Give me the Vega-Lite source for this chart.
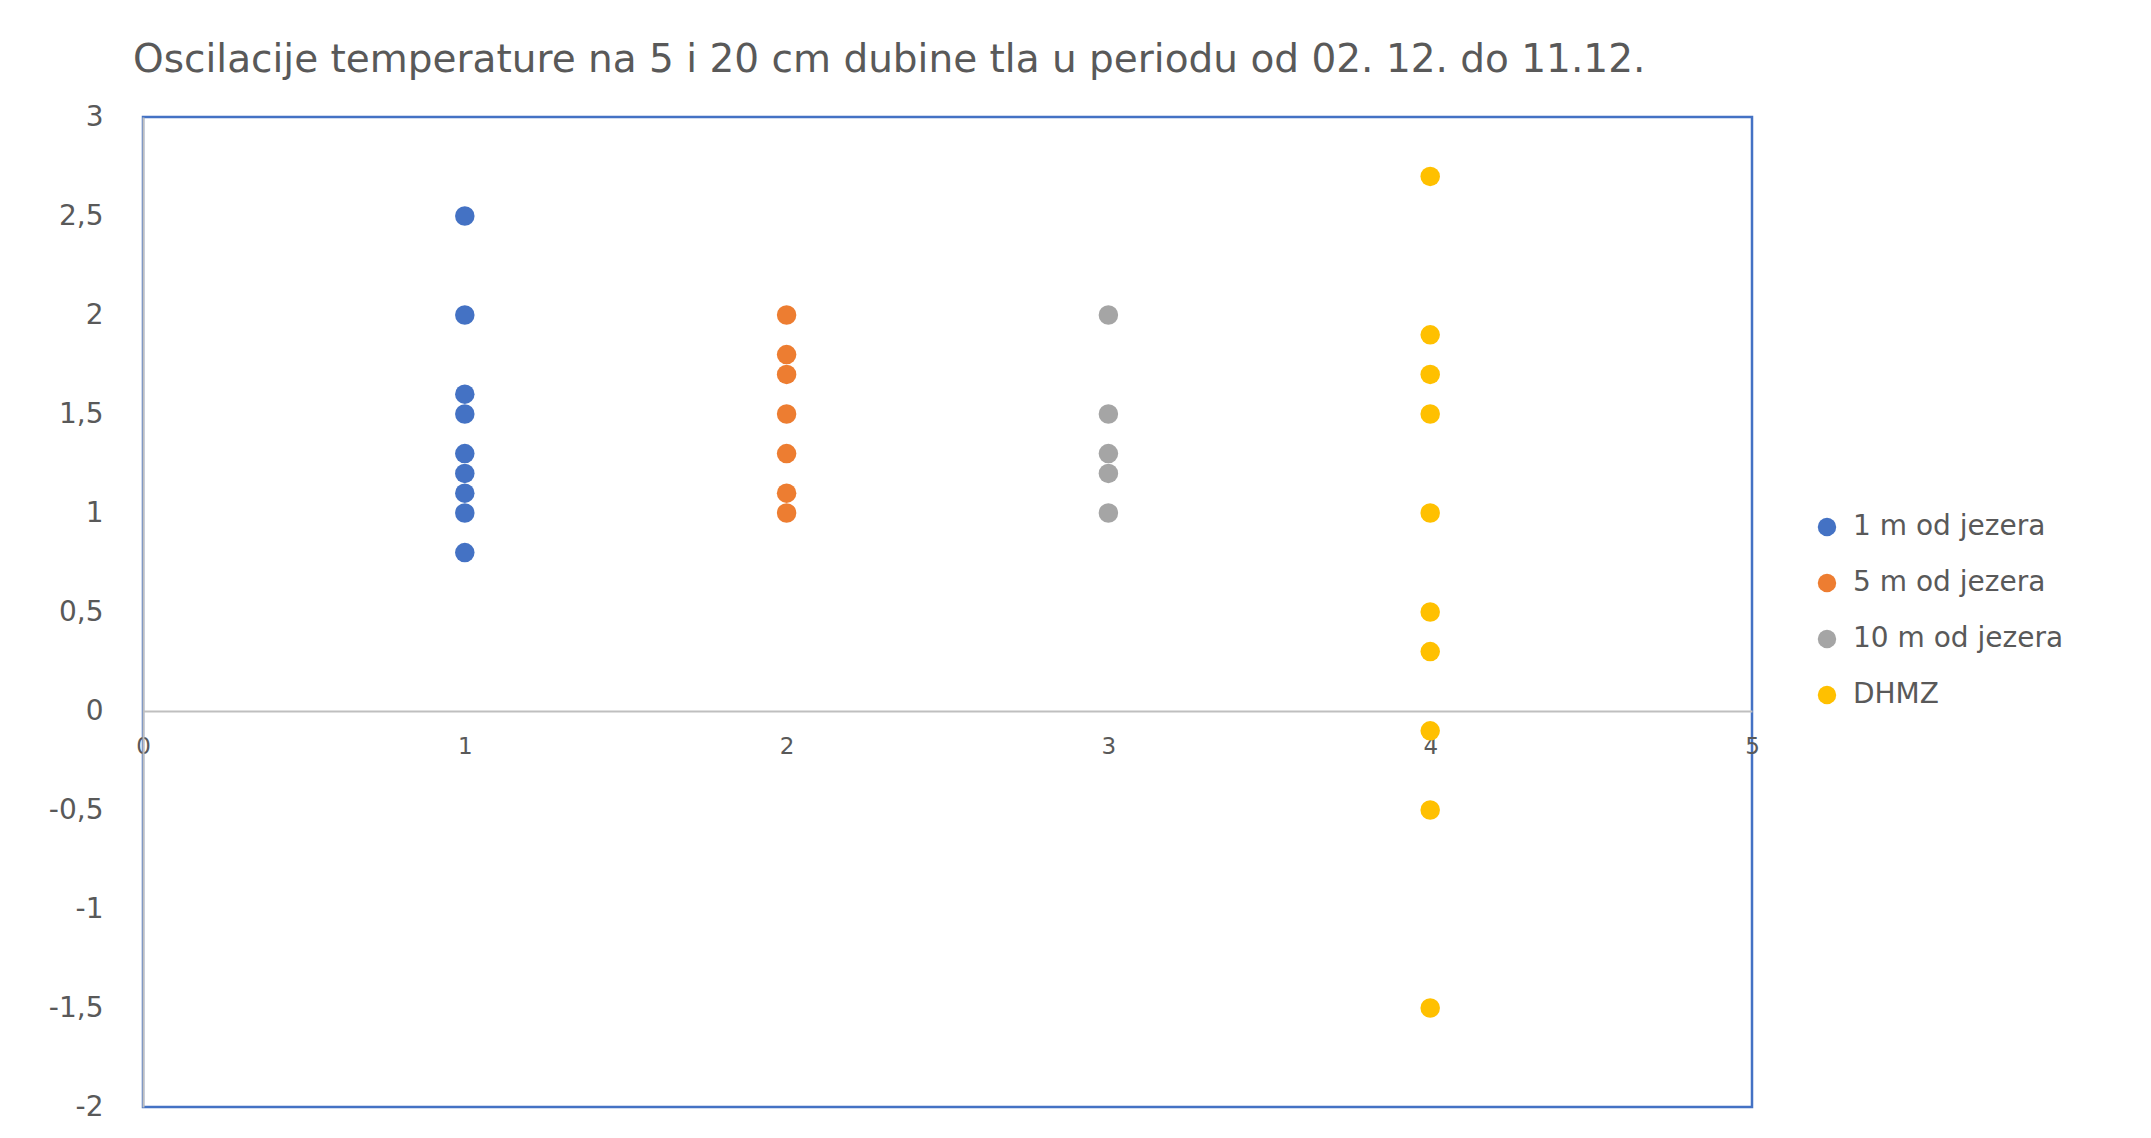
{
  "$schema": "https://vega.github.io/schema/vega-lite/v6.json",
  "autosize": "none",
  "width": 1609,
  "height": 990,
  "padding": {"left": 143, "top": 117, "right": 399, "bottom": 31},
  "background": "white",
  "title": {
    "text": "Oscilacije temperature na 5 i 20 cm dubine tla u periodu od 02. 12. do 11.12.",
    "anchor": "start",
    "frame": "group",
    "dx": -10,
    "offset": 23,
    "font": "DejaVu Sans",
    "fontSize": 39,
    "fontWeight": "normal",
    "color": "#595959"
  },
  "config": {
    "view": {"stroke": "#4472C4", "strokeWidth": 2.5},
    "font": "DejaVu Sans"
  },
  "data": {
    "values": [
      {"serija": "1 m od jezera", "x": 1, "y": 2.5},
      {"serija": "1 m od jezera", "x": 1, "y": 2.0},
      {"serija": "1 m od jezera", "x": 1, "y": 1.6},
      {"serija": "1 m od jezera", "x": 1, "y": 1.5},
      {"serija": "1 m od jezera", "x": 1, "y": 1.3},
      {"serija": "1 m od jezera", "x": 1, "y": 1.2},
      {"serija": "1 m od jezera", "x": 1, "y": 1.1},
      {"serija": "1 m od jezera", "x": 1, "y": 1.0},
      {"serija": "1 m od jezera", "x": 1, "y": 0.8},
      {"serija": "5 m od jezera", "x": 2, "y": 2.0},
      {"serija": "5 m od jezera", "x": 2, "y": 1.8},
      {"serija": "5 m od jezera", "x": 2, "y": 1.7},
      {"serija": "5 m od jezera", "x": 2, "y": 1.5},
      {"serija": "5 m od jezera", "x": 2, "y": 1.3},
      {"serija": "5 m od jezera", "x": 2, "y": 1.1},
      {"serija": "5 m od jezera", "x": 2, "y": 1.0},
      {"serija": "10 m od jezera", "x": 3, "y": 2.0},
      {"serija": "10 m od jezera", "x": 3, "y": 1.5},
      {"serija": "10 m od jezera", "x": 3, "y": 1.3},
      {"serija": "10 m od jezera", "x": 3, "y": 1.2},
      {"serija": "10 m od jezera", "x": 3, "y": 1.0},
      {"serija": "DHMZ", "x": 4, "y": 2.7},
      {"serija": "DHMZ", "x": 4, "y": 1.9},
      {"serija": "DHMZ", "x": 4, "y": 1.7},
      {"serija": "DHMZ", "x": 4, "y": 1.5},
      {"serija": "DHMZ", "x": 4, "y": 1.0},
      {"serija": "DHMZ", "x": 4, "y": 0.5},
      {"serija": "DHMZ", "x": 4, "y": 0.3},
      {"serija": "DHMZ", "x": 4, "y": -0.1},
      {"serija": "DHMZ", "x": 4, "y": -0.5},
      {"serija": "DHMZ", "x": 4, "y": -1.5}
    ]
  },
  "mark": {"type": "circle", "size": 380, "opacity": 1},
  "encoding": {
    "x": {
      "field": "x",
      "type": "quantitative",
      "scale": {"domain": [0, 5], "nice": false, "zero": false},
      "axis": {
        "title": null,
        "orient": "bottom",
        "offset": -396,
        "values": [0, 1, 2, 3, 4, 5],
        "grid": false,
        "ticks": false,
        "domainColor": "#BFBFBF",
        "domainWidth": 2,
        "labelColor": "#595959",
        "labelFont": "DejaVu Sans",
        "labelFontSize": 23,
        "labelPadding": 24,
        "labelFlush": false
      }
    },
    "y": {
      "field": "y",
      "type": "quantitative",
      "scale": {"domain": [-2, 3], "nice": false, "zero": false},
      "axis": {
        "title": null,
        "values": [-2, -1.5, -1, -0.5, 0, 0.5, 1, 1.5, 2, 2.5, 3],
        "labelExpr": "replace(toString(datum.value), '.', ',')",
        "grid": false,
        "ticks": false,
        "domainColor": "#BFBFBF",
        "domainWidth": 2,
        "labelColor": "#595959",
        "labelFont": "DejaVu Sans",
        "labelFontSize": 28,
        "labelPadding": 40,
        "labelFlush": false
      }
    },
    "color": {
      "field": "serija",
      "type": "nominal",
      "sort": ["1 m od jezera", "5 m od jezera", "10 m od jezera", "DHMZ"],
      "scale": {
        "domain": ["1 m od jezera", "5 m od jezera", "10 m od jezera", "DHMZ"],
        "range": ["#4472C4", "#ED7D31", "#A5A5A5", "#FFC000"]
      },
      "legend": {
        "title": null,
        "orient": "none",
        "legendX": 1670,
        "legendY": 396,
        "symbolType": "circle",
        "symbolSize": 340,
        "symbolOpacity": 1,
        "labelFont": "DejaVu Sans",
        "labelFontSize": 28,
        "labelColor": "#595959",
        "labelLimit": 400,
        "labelOffset": 12,
        "rowPadding": 28
      }
    }
  }
}
